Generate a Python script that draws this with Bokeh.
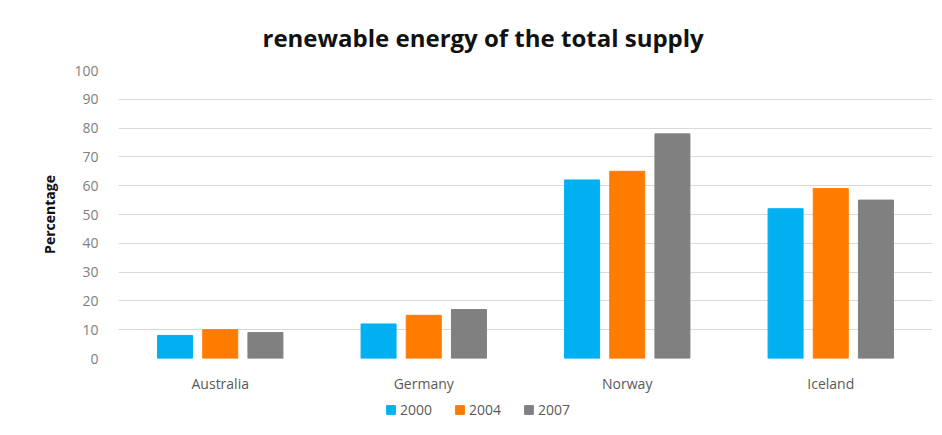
from bokeh.plotting import figure
from bokeh.layouts import column
from bokeh.models import (ColumnDataSource, FactorRange, Legend, LegendItem,
                          SingleIntervalTicker, Range1d)
from bokeh.transform import dodge
from bokeh.embed import file_html
from bokeh.resources import INLINE

countries = ["Australia", "Germany", "Norway", "Iceland"]
years = ["2000", "2004", "2007"]
v2000 = [8, 12, 62, 52]
v2004 = [10, 15, 65, 59]
v2007 = [9, 17, 78, 55]
colors = ["#00B0F0", "#FF7C00", "#808080"]

src = ColumnDataSource(data=dict(country=countries, y2000=v2000, y2004=v2004, y2007=v2007))

p = figure(x_range=FactorRange(*countries), y_range=(0, 100), width=942, height=395,
           output_backend="svg", toolbar_location=None,
           min_border_left=118, min_border_right=10, min_border_top=70, min_border_bottom=36)

cols = ["y2000", "y2004", "y2007"]
offsets = [-0.222, 0.0, 0.222]
for c, off, col in zip(cols, offsets, colors):
    p.vbar(x=dodge("country", off, range=p.x_range), top=c, width=0.172, source=src,
           fill_color=col, line_color=col)

p.title.text = "renewable energy of the total supply"
p.title.align = "left"
p.title.offset = 144
p.title.text_font = "Open Sans"
p.title.text_font_size = "24px"
p.title.text_font_style = "bold"
p.title.text_color = "#111111"
p.title.standoff = 34

p.yaxis.ticker = SingleIntervalTicker(interval=10)
p.yaxis.axis_label = "Percentage"
p.yaxis.axis_label_text_font = "Open Sans"
p.yaxis.axis_label_text_font_size = "14px"
p.yaxis.axis_label_text_font_style = "bold"
p.yaxis.axis_label_text_color = "#111111"
p.yaxis.axis_label_standoff = 12
for ax in (p.xaxis, p.yaxis):
    ax.axis_line_color = None
    ax.major_tick_line_color = None
    ax.minor_tick_line_color = None
    ax.major_label_text_font = "Open Sans"
    ax.major_label_text_font_size = "14px"
p.yaxis.major_label_text_color = "#808080"
p.yaxis.major_label_standoff = 14
p.xaxis.major_label_text_color = "#595959"
p.xaxis.major_label_standoff = 9

p.xgrid.grid_line_color = None
p.ygrid.grid_line_color = "#D9D9D9"
p.ygrid.grid_line_width = 1
p.outline_line_color = None
p.x_range.range_padding = 0.0

# legend strip below the chart: same series, drawn outside its visible y-range
lg = figure(width=942, height=40, output_backend="svg", toolbar_location=None,
            x_range=FactorRange(*countries), y_range=Range1d(1000, 1001),
            x_axis_location=None, y_axis_location=None,
            min_border_left=0, min_border_right=0, min_border_top=0, min_border_bottom=0)
lg.grid.visible = False
lg.outline_line_color = None
lrs = [lg.vbar(x=dodge("country", off, range=lg.x_range), top=c, width=0.172, source=src,
               fill_color=col, line_color=col)
       for c, off, col in zip(cols, offsets, colors)]
legend = Legend(items=[LegendItem(label=y, renderers=[r]) for y, r in zip(years, lrs)],
                orientation="horizontal", location=(267, 16),
                label_text_font="Open Sans", label_text_font_size="14px",
                label_text_color="#595959", glyph_width=11, glyph_height=11,
                spacing=22, label_standoff=4, border_line_color=None,
                background_fill_alpha=0, margin=0, padding=2)
lg.add_layout(legend, "center")

open("out.html", "w").write(file_html(column(p, lg, spacing=0), INLINE))
